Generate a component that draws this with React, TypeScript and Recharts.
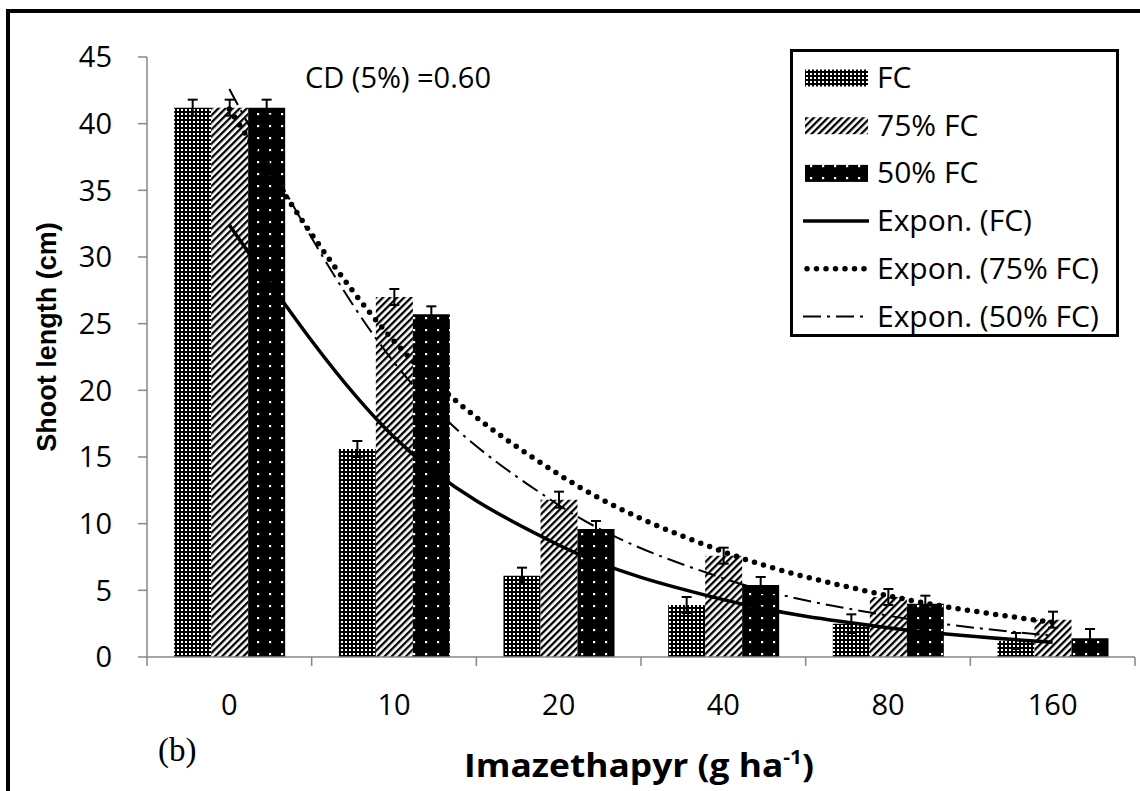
import React from 'react';
import { ComposedChart, Bar, Line, XAxis, YAxis, ErrorBar } from 'recharts';

// ---- data ----
const categories = ['0', '10', '20', '40', '80', '160'];
const fcValues = [41.2, 15.6, 6.1, 3.9, 2.5, 1.2];
const fc75Values = [41.2, 27.0, 11.8, 7.6, 4.5, 2.8];
const fc50Values = [41.2, 25.7, 9.6, 5.4, 4.0, 1.4];
const fcErrors = [0.6, 0.6, 0.6, 0.6, 0.7, 0.6];
const fc75Errors = [0.6, 0.6, 0.6, 0.6, 0.6, 0.6];
const fc50Errors = [0.6, 0.6, 0.6, 0.6, 0.6, 0.7];
const trendFC = [32.4, 16.5, 8.4, 4.3, 2.2, 1.1];
const trend75 = [41.1, 23.7, 13.7, 7.9, 4.6, 2.6];
const trend50 = [42.6, 22.1, 11.4, 5.9, 3.1, 1.6];
const yTicks = [0, 5, 10, 15, 20, 25, 30, 35, 40, 45];
const barNames = ['FC', '75% FC', '50% FC'];
const lineNames = ['Expon. (FC)', 'Expon. (75% FC)', 'Expon. (50% FC)'];

const data = categories.map((c, i) => ({
  cat: c,
  fc: fcValues[i],
  fc75: fc75Values[i],
  fc50: fc50Values[i],
  eFC: fcErrors[i],
  e75: fc75Errors[i],
  e50: fc50Errors[i],
  tFC: trendFC[i],
  t75: trend75[i],
  t50: trend50[i],
}));

// ---- layout ----
const W = 1140;
const H = 791;
const M = { top: 57, right: 5, left: 0, bottom: 0 };
const Y_W = 147;
const X_H = 134;
const BAND = (W - Y_W - M.right) / categories.length;
const AXIS = '#878787';
const FONT = "'Open Sans', sans-serif";

const patternFill = ['url(#pFC)', 'url(#p75)', 'url(#p50)'];

const XTick = (props: any) => {
  const { x, y, payload, index } = props;
  const half = BAND / 2;
  return (
    <g>
      <line x1={x - half} x2={x - half} y1={y} y2={y + 9} stroke={AXIS} strokeWidth={1.5} />
      {index === categories.length - 1 && (
        <line x1={x + half} x2={x + half} y1={y} y2={y + 9} stroke={AXIS} strokeWidth={1.5} />
      )}
      <text x={x} y={y + 58} textAnchor="middle" fontSize={29} fontFamily={FONT} fill="#000">
        {payload.value}
      </text>
    </g>
  );
};

const Defs = () => (
  <svg width={0} height={0} style={{ position: 'absolute' }}>
    <defs>
      <pattern id="pFC" width="4" height="4" patternUnits="userSpaceOnUse">
        <rect width="4" height="4" fill="#000" />
        <rect x="1" y="1" width="2" height="2" fill="#fff" />
      </pattern>
      <pattern id="p75" width="5" height="5" patternUnits="userSpaceOnUse" patternTransform="rotate(45)">
        <rect width="5" height="5" fill="#fff" />
        <rect width="2.3" height="5" fill="#000" />
      </pattern>
      <pattern id="p50" width="12" height="12" patternUnits="userSpaceOnUse">
        <rect width="12" height="12" fill="#000" />
        <rect x="5" y="5" width="2.2" height="2.2" fill="#fff" />
      </pattern>
    </defs>
  </svg>
);

const lineStyles = [
  { strokeWidth: 3.5, strokeDasharray: undefined as string | undefined, cap: 'butt' },
  { strokeWidth: 5.5, strokeDasharray: '0 9.5', cap: 'round' },
  { strokeWidth: 2, strokeDasharray: '18 6 3 6', cap: 'butt' },
];

const LegendBox = () => {
  const rowY = (i: number) => 26 + i * 47.7;
  return (
    <div
      style={{
        position: 'absolute',
        left: 790,
        top: 49,
        width: 323,
        height: 282,
        border: '3px solid #000',
        background: '#fff',
        fontFamily: FONT,
        color: '#000',
      }}
    >
      <svg width={323} height={282} style={{ position: 'absolute', left: 0, top: 0, overflow: 'visible' }}>
        {barNames.map((n, i) => (
          <g key={n}>
            <rect x={12} y={rowY(i) - 8.5} width={63} height={17} fill={patternFill[i]} />
            <text x={84} y={rowY(i) + 10} fontSize={30} fontFamily={FONT} fill="#000">
              {n}
            </text>
          </g>
        ))}
        {lineNames.map((n, j) => {
          const i = j + 3;
          const s = lineStyles[j];
          return (
            <g key={n}>
              <line
                x1={j === 1 ? 14 : 10}
                x2={j === 1 ? 72 : 76}
                y1={rowY(i)}
                y2={rowY(i)}
                stroke="#000"
                strokeWidth={s.strokeWidth}
                strokeDasharray={s.strokeDasharray}
                strokeLinecap={s.cap as any}
              />
              <text x={84} y={rowY(i) + 10} fontSize={30} fontFamily={FONT} fill="#000">
                {n}
              </text>
            </g>
          );
        })}
      </svg>
    </div>
  );
};

export default function App() {
  return (
    <div style={{ position: 'absolute', left: 0, top: 0, width: W, height: H, background: '#fff', fontFamily: FONT, overflow: 'hidden' }}>
      <Defs />
      <div
        style={{
          position: 'absolute',
          left: 6,
          top: 9,
          width: W,
          height: H,
          borderTop: '4px solid #000',
          borderLeft: '4px solid #000',
          boxSizing: 'border-box',
        }}
      />
      <div style={{ position: 'absolute', left: 0, top: 0 }}>
        <ComposedChart width={W} height={H} data={data} margin={M} barCategoryGap="16.5%" barGap={0}>
          <XAxis
            dataKey="cat"
            height={X_H}
            axisLine={{ stroke: AXIS, strokeWidth: 1.5 }}
            tickLine={false}
            tickSize={0}
            tickMargin={0}
            tick={<XTick />}
            interval={0}
          />
          <YAxis
            width={Y_W}
            domain={[0, 45]}
            ticks={yTicks}
            interval={0}
            axisLine={{ stroke: AXIS, strokeWidth: 1.5 }}
            tickLine={{ stroke: AXIS, strokeWidth: 1.5 }}
            tickSize={9}
            tickMargin={26}
            tick={{ fontSize: 29, fill: '#000', fontFamily: FONT }}
          />
          <Bar dataKey="fc" fill="url(#pFC)" isAnimationActive={false}>
            <ErrorBar dataKey="eFC" width={5} stroke="#000" strokeWidth={2} direction="y" />
          </Bar>
          <Bar dataKey="fc75" fill="url(#p75)" isAnimationActive={false}>
            <ErrorBar dataKey="e75" width={5} stroke="#000" strokeWidth={2} direction="y" />
          </Bar>
          <Bar dataKey="fc50" fill="url(#p50)" isAnimationActive={false}>
            <ErrorBar dataKey="e50" width={5} stroke="#000" strokeWidth={2} direction="y" />
          </Bar>
          <Line
            dataKey="tFC"
            type="monotone"
            stroke="#000"
            strokeWidth={3.5}
            dot={false}
            activeDot={false}
            isAnimationActive={false}
          />
          <Line
            dataKey="t75"
            type="monotone"
            stroke="#000"
            strokeWidth={5.5}
            strokeDasharray="0 9.5"
            strokeLinecap="round"
            dot={false}
            activeDot={false}
            isAnimationActive={false}
          />
          <Line
            dataKey="t50"
            type="monotone"
            stroke="#000"
            strokeWidth={2}
            strokeDasharray="18 6 3 6"
            dot={false}
            activeDot={false}
            isAnimationActive={false}
          />
        </ComposedChart>
      </div>
      <svg width={W} height={H} style={{ position: 'absolute', left: 0, top: 0, pointerEvents: 'none' }}>
        <text
          x={47}
          y={337}
          transform="rotate(-90 47 337)"
          textAnchor="middle"
          dominantBaseline="central"
          fontFamily="'Liberation Sans', Arial, sans-serif"
          fontWeight="bold"
          fontSize={27}
          fill="#000"
        >
          Shoot length (cm)
        </text>
        <text
          x={464}
          y={777}
          fontFamily={FONT}
          fontWeight="bold"
          fontSize={32}
          fill="#000"
          textLength={350}
          lengthAdjust="spacingAndGlyphs"
        >
          Imazethapyr (g ha
          <tspan fontSize={19} dy={-13}>-1</tspan>
          <tspan dy={13}>)</tspan>
        </text>
        <text x={158} y={761} fontFamily="'Liberation Serif', 'Times New Roman', serif" fontSize={33} fill="#000">
          (b)
        </text>
        <text x={305} y={88} fontFamily={FONT} fontSize={29} fill="#000">
          CD (5%) =0.60
        </text>
      </svg>
      <LegendBox />
    </div>
  );
}
